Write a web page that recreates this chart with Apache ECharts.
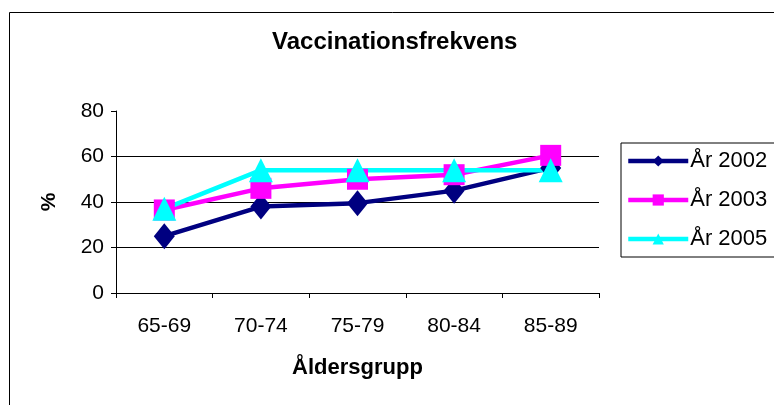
<!DOCTYPE html>
<html>
<head>
<meta charset="utf-8">
<script src="https://cdn.jsdelivr.net/npm/echarts@6/dist/echarts.min.js"></script>
<style>html,body{margin:0;padding:0;background:#fff}#c{width:774px;height:405px}</style>
</head>
<body>
<div id="c"></div>
<script>
const categories = ['65-69', '70-74', '75-79', '80-84', '85-89'];
const y2002 = [25, 38, 39.5, 45, 55];
const y2003 = [36.5, 46, 50, 52, 60.5];
const y2005 = [37, 54, 54, 54, 54];
const yTicks = [0, 20, 40, 60, 80];

const chart = echarts.init(document.getElementById('c'), null, {renderer: 'canvas'});
const font = 'Liberation Sans, Arial, sans-serif';
chart.setOption({
  animation: false,
  backgroundColor: '#fff',
  textStyle: {fontFamily: font},
  graphic: [{
    type: 'rect', left: 7, top: 10, silent: true,
    shape: {width: 820, height: 500},
    style: {fill: 'none', stroke: '#000', lineWidth: 1}
  }],
  title: {
    text: 'Vaccinationsfrekvens', left: 272, top: 30, padding: 0,
    textStyle: {fontFamily: font, fontWeight: 'bold', fontSize: 24, color: '#000'}
  },
  legend: {
    orient: 'vertical', left: 621, top: 143,
    borderColor: '#000', borderWidth: 1,
    padding: [7, 12, 7, 5], itemGap: 17, itemWidth: 60, itemHeight: 14,
    lineStyle: {width: 4.5},
    textStyle: {fontFamily: font, fontSize: 22, color: '#000', padding: [0, 0, 0, -3]},
    data: ['År 2002', 'År 2003', 'År 2005']
  },
  grid: {left: 116, right: 175, top: 111, bottom: 112},
  xAxis: {
    type: 'category', data: categories, boundaryGap: true,
    axisLine: {lineStyle: {color: '#000', width: 1}},
    axisTick: {show: true, length: 5, lineStyle: {color: '#000'}},
    axisLabel: {fontFamily: font, fontSize: 21, color: '#000', margin: 23},
    name: 'Åldersgrupp', nameLocation: 'middle', nameGap: 64,
    nameTextStyle: {fontFamily: font, fontSize: 22, fontWeight: 'bold', color: '#000'}
  },
  yAxis: {
    type: 'value', min: 0, max: 80, interval: 20,
    axisLine: {show: true, lineStyle: {color: '#000', width: 1}},
    axisTick: {show: true, length: 5, lineStyle: {color: '#000'}},
    axisLabel: {fontFamily: font, fontSize: 21, color: '#000', margin: 12},
    splitLine: {show: true, lineStyle: {color: ['#000', '#000', '#000', '#000', 'rgba(0,0,0,0)'], width: 1}},
    name: '%', nameLocation: 'middle', nameGap: 56, nameRotate: 90,
    nameTextStyle: {fontFamily: font, fontSize: 21, fontWeight: 'bold', color: '#000'}
  },
  series: [
    {name: 'År 2002', type: 'line', data: y2002, symbol: 'diamond', symbolSize: [21, 26],
     itemStyle: {color: '#000080'}, lineStyle: {color: '#000080', width: 4.5}},
    {name: 'År 2003', type: 'line', data: y2003, symbol: 'rect', symbolSize: 21,
     itemStyle: {color: '#FF00FF'}, lineStyle: {color: '#FF00FF', width: 4.5}},
    {name: 'År 2005', type: 'line', data: y2005, symbol: 'triangle', symbolSize: [24, 24],
     itemStyle: {color: '#00FFFF'}, lineStyle: {color: '#00FFFF', width: 4.5}}
  ]
});
</script>
</body>
</html>
